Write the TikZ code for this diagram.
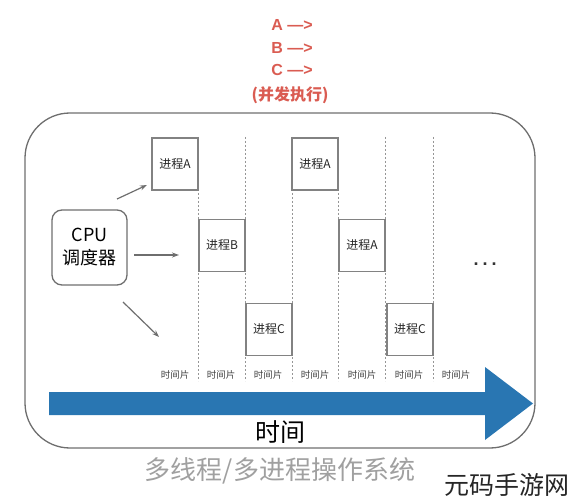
\documentclass[tikz,border=0pt]{standalone}
\usepackage{fontspec}
\setmainfont{Liberation Sans}
\newfontfamily\cjk{Noto Sans CJK SC}
\usetikzlibrary{arrows.meta}
\definecolor{redtxt}{RGB}{218,92,82}
\definecolor{bluearr}{RGB}{41,118,178}
\definecolor{edge}{RGB}{110,110,110}
\definecolor{boxedge}{RGB}{130,130,130}
\definecolor{dashc}{RGB}{150,150,150}
\definecolor{subgray}{RGB}{160,160,160}
\tikzset{
  proc/.style={draw=boxedge, line width=1.3pt, fill=white, minimum width=46pt, minimum height=52pt, inner sep=0pt, font=\cjk\fontsize{12}{14}\selectfont, text=black!85},
  slot/.style={draw=dashc, line width=1pt, dash pattern=on 2pt off 2pt},
  slotlabel/.style={font=\cjk\fontsize{9.5}{11}\selectfont, text=black!75},
  feed/.style={draw=edge, line width=1.2pt, -{Stealth[length=7pt,width=5pt]}},
  redlabel/.style={font=\bfseries\fontsize{16}{18}\selectfont, text=redtxt}
}
\begin{document}
\begin{tikzpicture}[x=1pt,y=-1pt]
\useasboundingbox (0,0) rectangle (571,500);
% top text
\node[redlabel] (la) at (292,25) {A —>};
\node[redlabel] (lb) at (292,48) {B —>};
\node[redlabel] (lc) at (292,70) {C —>};
\node[redlabel,font=\cjk\bfseries\fontsize{16}{18}\selectfont] (lpar) at (290,95) {(并发执行)};
% outer frame
\node[draw=edge, line width=1.3pt, rounded corners=45pt, minimum width=510pt, minimum height=335pt, inner sep=0pt] (frame) at (280,280.5) {};
% dashed slot lines
\foreach \x/\n in {198/1,245/2,292/3,338/4,385/5,433/6}{
  \coordinate (st\n) at (\x,137);
  \coordinate (sb\n) at (\x,381);
  \draw[slot] (st\n) -- (sb\n);
}
% process boxes
\node[proc] (pa1) at (175,164) {进程A};
\node[proc] (pb)  at (222,245.5) {进程B};
\node[proc] (pc1) at (269,329.5) {进程C};
\node[proc] (pa2) at (315,164) {进程A};
\node[proc] (pa3) at (362,245.5) {进程A};
\node[proc] (pc2) at (410,329.5) {进程C};
% dots
\node[font=\bfseries\fontsize{18}{20}\selectfont, text=black!80] (dots) at (485,264) {.\hspace{4pt}.\hspace{4pt}.};
% CPU box
\node[draw=edge, line width=1.3pt, rounded corners=10pt, minimum width=75pt, minimum height=75pt, inner sep=0pt, align=center, font=\cjk\fontsize{18}{23}\selectfont] (cpu) at (89.5,247.5) {CPU\\调度器};
% feed arrows
\coordinate (f1s) at (117,199); \coordinate (f1e) at (147,185);
\coordinate (f2s) at (134,255); \coordinate (f2e) at (179,255);
\coordinate (f3s) at (123,302); \coordinate (f3e) at (159,337);
\draw[feed] (f1s) -- (f1e);
\draw[feed] (f2s) -- (f2e);
\draw[feed] (f3s) -- (f3e);
% slot labels
\foreach \x/\n in {175/1,221/2,268/3,315/4,362/5,409/6,456/7}{
  \node[slotlabel] (ts\n) at (\x,375) {时间片};
}
% time arrow
\fill[bluearr] (49,392) -- (485,392) -- (485,367) -- (533,403.5) -- (485,440) -- (485,415) -- (49,415) -- cycle;
\node[font=\cjk\fontsize{25}{28}\selectfont] (time) at (280,432) {时间};
% caption
\node[font=\cjk\fontsize{26}{30}\selectfont, text=subgray] (cap) at (280,471) {多线程/多进程操作系统};
\node[font=\cjk\fontsize{25}{28}\selectfont, text=black!85] (wm) at (507,485) {元码手游网};
\end{tikzpicture}
\end{document}
